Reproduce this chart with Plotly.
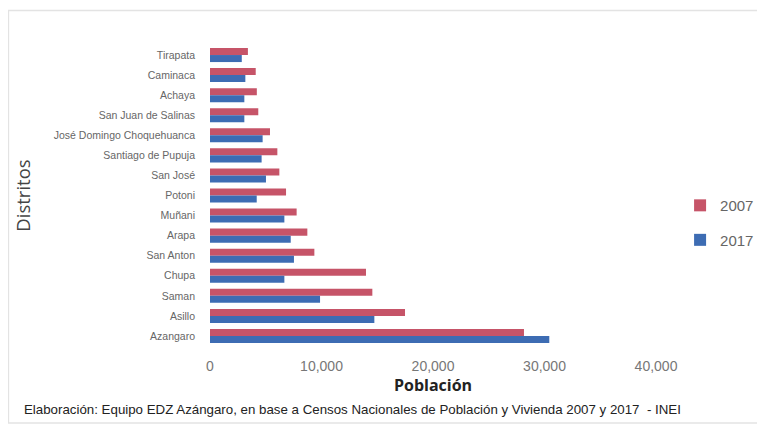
import plotly.graph_objects as go

labels = ["Tirapata", "Caminaca", "Achaya", "San Juan de Salinas",
          "José Domingo Choquehuanca", "Santiago de Pupuja", "San José",
          "Potoni", "Muñani", "Arapa", "San Anton", "Chupa", "Saman",
          "Asillo", "Azangaro"]
pob_2007 = [3400, 4100, 4200, 4330, 5380, 6040, 6220, 6820, 7770, 8730,
            9360, 13990, 14560, 17490, 28160]
pob_2017 = [2850, 3170, 3080, 3080, 4720, 4630, 5020, 4190, 6670, 7240,
            7530, 6670, 9870, 14740, 30430]
x_ticks = [0, 10000, 20000, 30000, 40000]

fig = go.Figure()
fig.add_trace(go.Bar(y=labels, x=pob_2007, orientation="h", name="2007",
                     legendgroup="a",
                     marker=dict(color="#C65468", line=dict(width=0))))
fig.add_trace(go.Bar(y=labels, x=pob_2017, orientation="h", name="2017",
                     legendgroup="b",
                     marker=dict(color="#3D6CB3", line=dict(width=0))))

font_main = "Liberation Sans Narrow, Liberation Sans, Arial, sans-serif"
fig.update_layout(
    width=757, height=416,
    margin=dict(l=202, r=109, t=37, b=78, autoexpand=False),
    paper_bgcolor="white", plot_bgcolor="white",
    barmode="group", bargap=0.3, bargroupgap=0.0,
    font=dict(family=font_main, color="#666666"),
    xaxis=dict(range=[0, 40000], tickvals=x_ticks, tickformat=",d",
               showgrid=False, zeroline=False, showline=False,
               tickfont=dict(size=14, family="Liberation Sans, Arial", color="#777777"),
               ticks="", ticklen=0, ticklabelstandoff=10,
               title=dict(text="<b>Población</b>", standoff=0,
                          font=dict(size=16, family="Open Sans, DejaVu Sans", color="#222222"))),
    yaxis=dict(autorange="reversed", showgrid=False, zeroline=False, showline=False,
               tickfont=dict(size=10.5, color="#666666"), ticks="", ticklen=0,
               ticklabelstandoff=14,
               title=dict(text="Distritos", standoff=18,
                          font=dict(size=18.5, family="Open Sans, DejaVu Sans", color="#444444"))),
    legend=dict(x=1.054, y=0.41, xanchor="left", yanchor="middle",
                font=dict(size=15, family="Liberation Sans, Arial", color="#666666"),
                traceorder="grouped", tracegroupgap=12, itemwidth=30,
                bgcolor="rgba(0,0,0,0)"),
    shapes=[dict(type="rect", xref="paper", yref="paper",
                 x0=-0.452, x1=1.238, y0=-0.256, y1=1.115,
                 line=dict(color="#E3E3E3", width=1.5), fillcolor="rgba(0,0,0,0)",
                 layer="below")],
    annotations=[dict(
        text="Elaboración: Equipo EDZ Azángaro, en base a Censos Nacionales de Población y Vivienda 2007 y 2017  - INEI",
        xref="paper", yref="paper", x=-0.4215, y=-0.18, xanchor="left", yanchor="top",
        showarrow=False, font=dict(size=13.3, family="Liberation Sans, Arial", color="#222222"))],
)

fig.write_html("out.html")
